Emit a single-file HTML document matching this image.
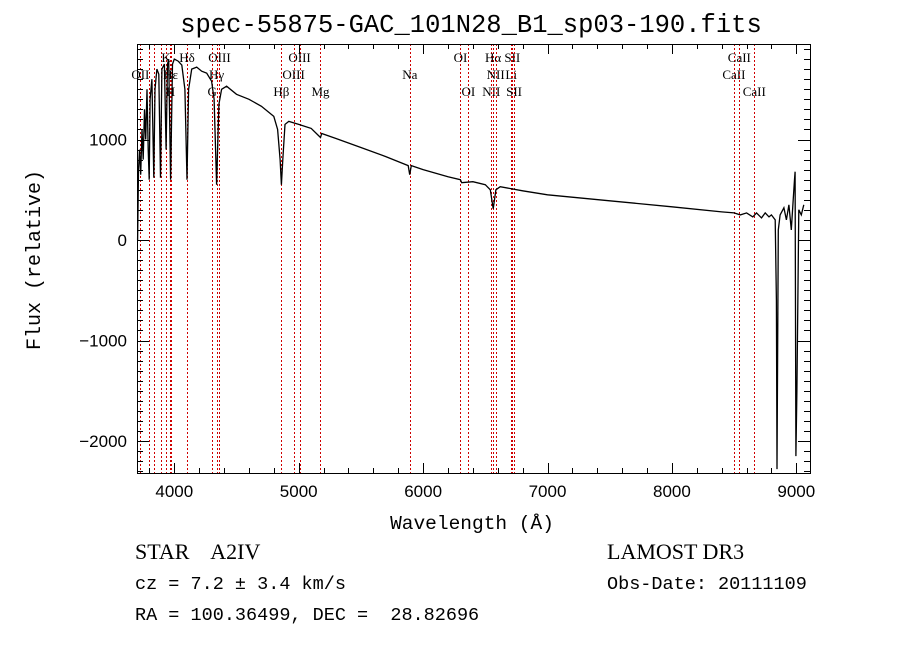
<!DOCTYPE html>
<html><head><meta charset="utf-8">
<style>
body{margin:0;background:#fff;}
svg{display:block;font-family:"Liberation Mono",monospace;}
text{white-space:pre;}
</style></head>
<body>
<svg id="chart" width="900" height="649" viewBox="0 0 900 649" xmlns="http://www.w3.org/2000/svg" xml:space="preserve">
<rect width="900" height="649" fill="#fff"/>
<text x="471" y="32" font-size="25.5" text-anchor="middle">spec-55875-GAC_101N28_B1_sp03-190.fits</text>
<g id="lines"></g>
<g id="spec"></g>
<g id="axes"></g>
<text x="472" y="529" font-size="19.5" text-anchor="middle">Wavelength (Å)</text>
<text transform="translate(40,260) rotate(-90)" font-size="20" text-anchor="middle">Flux (relative)</text>
<text x="135" y="559" font-size="22" font-family="Liberation Serif, serif">STAR    A2IV</text>
<text x="607" y="559" font-size="22" font-family="Liberation Serif, serif">LAMOST DR3</text>
<text x="135" y="589" font-size="18.5">cz = 7.2 ± 3.4 km/s</text>
<text x="607" y="589" font-size="18.5">Obs-Date: 20111109</text>
<text x="135" y="620" font-size="18.5">RA = 100.36499, DEC =  28.82696</text>
</svg>
<script>
const wavelengths=[3705,3712,3720,3730,3740,3750,3760,3770,3780,3790,3798,3805,3820,3835,3845,3860,3875,3889,3900,3920,3934,3945,3955,3970,3985,4000,4030,4060,4085,4102,4115,4140,4180,4220,4260,4300,4320,4340,4358,4380,4420,4500,4600,4700,4800,4830,4850,4861,4872,4890,4920,5000,5100,5175,5185,5300,5500,5700,5880,5892,5905,6000,6200,6300,6310,6400,6500,6540,6563,6585,6620,6800,7000,7500,8000,8400,8500,8550,8600,8650,8680,8720,8750,8780,8800,8830,8840,8845,8855,8870,8900,8920,8940,8960,8975,8985,8990,8997,9005,9020,9040,9060];
const fluxes=[0,700,900,650,1100,800,1300,1000,1500,900,600,1400,1600,620,1500,1700,1650,620,1700,1750,900,1750,1800,600,1750,1800,1780,1740,1500,600,1500,1700,1720,1680,1660,1580,1400,550,1350,1500,1530,1450,1400,1330,1230,1100,800,550,800,1150,1180,1150,1110,1020,1060,1010,920,830,740,650,740,700,630,600,570,580,550,500,310,500,530,490,450,390,330,280,270,250,270,230,270,220,270,230,250,200,-600,-2280,100,250,320,200,350,100,400,600,680,-2150,-1500,300,250,350,60,300];
const lineWaves=[3727,3798,3835,3889,3934,3969,3970,4102,4304,4340,4363,4861,4959,5007,5175,5893,6300,6364,6548,6563,6583,6708,6717,6731,8498,8542,8662];
const lineLabels=["OII","","","","K","H","Hε","Hδ","G","Hγ","OIII","Hβ","OIII","OIII","Mg","Na","OI","OI","NII","Hα","NII","Li","SII","SII","CaII","CaII","CaII"];
const lineRows=[1,0,2,1,0,2,1,0,2,1,0,2,1,0,2,1,0,2,2,0,1,1,0,2,1,0,2];
const xTicks=[4000,5000,6000,7000,8000,9000];
const yTicks=[-2000,-1000,0,1000];
const L=137,R=810,T=44,B=473;
const X=w=>L+(w-3700)*0.1244;
const Y=f=>240-f*0.1005;
const NS="http://www.w3.org/2000/svg";
function mk(t,a,p){const e=document.createElementNS(NS,t);for(const k in a)e.setAttribute(k,a[k]);p.appendChild(e);return e;}
const lg=document.getElementById('lines');
lineWaves.forEach((w,i)=>{
 const xx=Math.round(X(w))+0.5;
 const l=mk('line',{x1:xx,x2:xx,y1:T,y2:B,stroke:'#d00000','stroke-width':1,'stroke-dasharray':'2,2','shape-rendering':'crispEdges'},lg);
 
 
 if(lineLabels[i]){
  const t=mk('text',{x:X(w),y:62+lineRows[i]*17,'font-size':13,'text-anchor':'middle','font-family':'Liberation Serif, serif'},lg);
  t.textContent=lineLabels[i];
  
  
 }
});
const sg=document.getElementById('spec');
const p=mk('polyline',{points:wavelengths.map((w,i)=>X(w).toFixed(1)+','+Y(fluxes[i]).toFixed(1)).join(' '),fill:'none',stroke:'#000','stroke-width':1.3},sg);


const ag=document.getElementById('axes');
const fr=mk('rect',{x:L+0.5,y:T+0.5,width:R-L,height:B-T,fill:'none',stroke:'#000','stroke-width':1,'shape-rendering':'crispEdges'},ag);


for(let w=3800;w<=9100;w+=200){const x=Math.round(X(w))+0.5;const maj=w%1000===0;const h=maj?10:5;
 mk('line',{x1:x,x2:x,y1:B,y2:B-h,stroke:'#000','shape-rendering':'crispEdges'},ag);mk('line',{x1:x,x2:x,y1:T,y2:T+h,stroke:'#000','shape-rendering':'crispEdges'},ag);}
for(let f=-2300;f<=1900;f+=100){const y=Math.round(Y(f))+0.5;const maj=f%1000===0;const h=maj?12:6;
 mk('line',{x1:L,x2:L+h,y1:y,y2:y,stroke:'#000','shape-rendering':'crispEdges'},ag);mk('line',{x1:R,x2:R-h,y1:y,y2:y,stroke:'#000','shape-rendering':'crispEdges'},ag);}
xTicks.forEach(v=>{const t=mk('text',{x:X(v),y:B+24,'font-size':17,'text-anchor':'middle','font-family':'Liberation Sans, sans-serif'},ag);t.textContent=v;
 
 });
yTicks.forEach(v=>{const t=mk('text',{x:L-10,y:Y(v)+6,'font-size':17,'text-anchor':'end','font-family':'Liberation Sans, sans-serif'},ag);t.textContent=v<0?'−'+(-v):v;
 
 });
</script>
</body></html>
